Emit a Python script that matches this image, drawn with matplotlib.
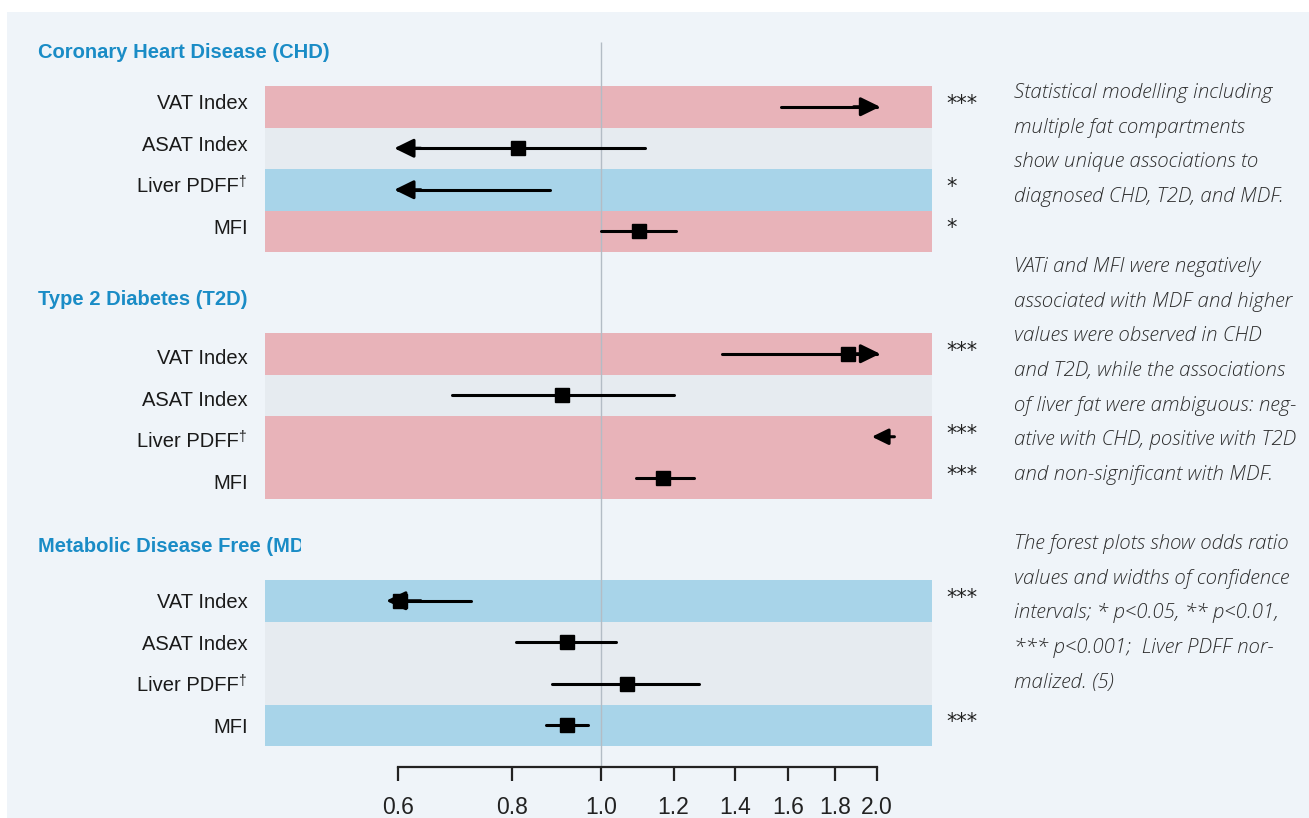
import matplotlib
matplotlib.use("Agg")
import matplotlib.pyplot as plt
import numpy as np
from matplotlib.patches import Rectangle
from matplotlib.transforms import Bbox, blended_transform_factory

# data
panels = ["Coronary Heart Disease (CHD)", "Type 2 Diabetes (T2D)", "Metabolic Disease Free (MDF)"]
rows = ["VAT Index", "ASAT Index", "Liver PDFF", "MFI"]
row_marks = ["", "", "\u2020", ""]
# odds ratio, lower CI, upper CI per panel (values outside 0.6-2.0 are off the axis)
odds = [[2.30, 0.812, 0.55, 1.10],
        [1.86, 0.907, 2.40, 1.169],
        [0.604, 0.918, 1.068, 0.918]]
lower = [[1.57, 0.55, 0.45, 1.00],
         [1.355, 0.688, 2.09, 1.092],
         [0.50, 0.808, 0.884, 0.871]]
upper = [[2.80, 1.117, 0.88, 1.207],
         [2.60, 1.20, 2.90, 1.263],
         [0.721, 1.038, 1.28, 0.968]]
# +1 positive significant, -1 negative significant, 0 not significant
direction = [[1, 0, -1, 1],
             [1, 0, 1, 1],
             [-1, 0, 0, -1]]
stars = [["***", "", "*", "*"],
         ["***", "", "***", "***"],
         ["***", "", "", "***"]]
xticks = [0.6, 0.8, 1.0, 1.2, 1.4, 1.6, 1.8, 2.0]

notes = [
    ["Statistical modelling including", "multiple fat compartments",
     "show unique associations to", "diagnosed CHD, T2D, and MDF."],
    ["VATi and MFI were negatively", "associated with MDF and higher",
     "values were observed in CHD", "and T2D, while the associations",
     "of liver fat were ambiguous: neg-", "ative with CHD, positive with T2D",
     "and non-significant with MDF."],
    ["The forest plots show odds ratio", "values and widths of confidence",
     "intervals; * p<0.05, ** p<0.01,", "*** p<0.001;  Liver PDFF nor-",
     "malized. (5)"],
]

W, H = 1309, 818
band_col = {1: "#e8b3b9", 0: "#e6ebf0", -1: "#a8d4e9"}
title_col = "#1a8cc6"
label_shift = [-3, 5, 2]   # labels sit a little off the band centres in the original

fig = plt.figure(figsize=(W / 100, H / 100), dpi=100)
fig.patch.set_facecolor("white")
fig.patches.append(Rectangle((7 / W, 0), 1, 1 - 12 / H, transform=fig.transFigure,
                             facecolor="#eff4f9", edgecolor="none", zorder=-10))

ax = fig.add_axes([265 / W, 0, (932 - 265) / W, 1])
ax.set_facecolor("none")
ax.set_xscale("log")
ax.set_xlim(0.43, 2.297)
ax.set_ylim(H, 0)
for s in ["left", "top", "right"]:
    ax.spines[s].set_visible(False)
ax.spines["bottom"].set_position(("data", 767))
ax.spines["bottom"].set_bounds(0.6, 2.0)
ax.spines["bottom"].set_linewidth(1.6)
ax.spines["bottom"].set_color("#222222")
ax.set_yticks([])
ax.set_xticks(xticks)
ax.set_xticklabels([f"{t:.1f}" for t in xticks])
ax.xaxis.set_minor_locator(matplotlib.ticker.NullLocator())
ax.tick_params(axis="x", direction="out", length=10, width=1.6, color="#222222",
               pad=11, labelsize=16.5, labelcolor="#222222")
for lab in ax.get_xticklabels():
    lab.set_fontfamily("Liberation Sans")

lo_clip, hi_clip = 0.6, 2.0
row_h = 41.5
trans_lab = blended_transform_factory(ax.transAxes, ax.transData)
arrow = dict(arrowstyle="-|>,head_length=0.45,head_width=0.22", color="black", lw=2.2,
             mutation_scale=26, shrinkA=0, shrinkB=0)

for p, name in enumerate(panels):
    top = 86 + 247 * p
    for i, r in enumerate(rows):
        y0 = top + i * row_h
        yc = y0 + row_h / 2
        yl = yc + label_shift[p]
        ax.axhspan(y0, y0 + row_h, color=band_col[direction[p][i]], lw=0, zorder=0)
        if row_marks[i]:
            ax.text(-0.040, yl, r, transform=trans_lab, ha="right", va="center",
                    fontsize=14.5, family="Liberation Sans", color="#1a1a1a")
            ax.text(-0.0405, yl - 5, row_marks[i], transform=trans_lab, ha="left",
                    va="center", fontsize=10, family="Liberation Sans", color="#1a1a1a")
        else:
            ax.text(-0.026, yl, r, transform=trans_lab, ha="right", va="center",
                    fontsize=14.5, family="Liberation Sans", color="#1a1a1a")
        ax.text(1.021, yc - 3, stars[p][i], transform=trans_lab, ha="left", va="center",
                fontsize=15, family="DejaVu Sans", color="#222222")

        lo, hi, est = lower[p][i], upper[p][i], odds[p][i]
        a = max(lo, lo_clip)
        b = min(hi, hi_clip)
        if lo >= hi_clip:
            # whole interval beyond the axis: short arrow back toward the edge
            ax.annotate("", xy=(1.975, yc), xytext=(lo, yc),
                        arrowprops=dict(arrow, mutation_scale=22), zorder=3)
        else:
            ax.plot([a, b], [yc, yc], color="black", lw=2.2, solid_capstyle="round", zorder=3)
            if lo < lo_clip:
                # push the head out when the square sits right at the edge
                tip = 0.583 if lo_clip <= est < lo_clip * 1.05 else 0.595
                ax.annotate("", xy=(tip, yc), xytext=(a * 1.06, yc),
                            arrowprops=arrow, zorder=3)
            if hi > hi_clip:
                ax.annotate("", xy=(2.016, yc), xytext=(b / 1.06, yc),
                            arrowprops=arrow, zorder=3)
        if lo_clip <= est <= hi_clip:
            ax.plot(est, yc, marker="s", ms=10, color="black", zorder=4)

    t = fig.text(38 / W, 1 - (53 + 246.5 * p) / H, name, ha="left", va="center",
                 fontsize=14.5, fontweight="bold", family="Liberation Sans", color=title_col)
    if p == 2:
        t.set_clip_box(Bbox.from_extents(0, 0, 301, H))
        t.set_clip_on(True)

# reference line at OR = 1
ax.vlines(1.0, 42, 767, color="#b3bcc5", lw=1, zorder=1)

# side notes
for y0, para in zip([93, 267, 544], notes):
    for k, line in enumerate(para):
        fig.text(1014 / W, 1 - (y0 + k * 34.7) / H, line, ha="left", va="center",
                 fontsize=14.8, family="Open Sans", style="italic", weight="light",
                 color="#2e2e2e")

fig.savefig("out.png", dpi=100, facecolor=fig.get_facecolor())
